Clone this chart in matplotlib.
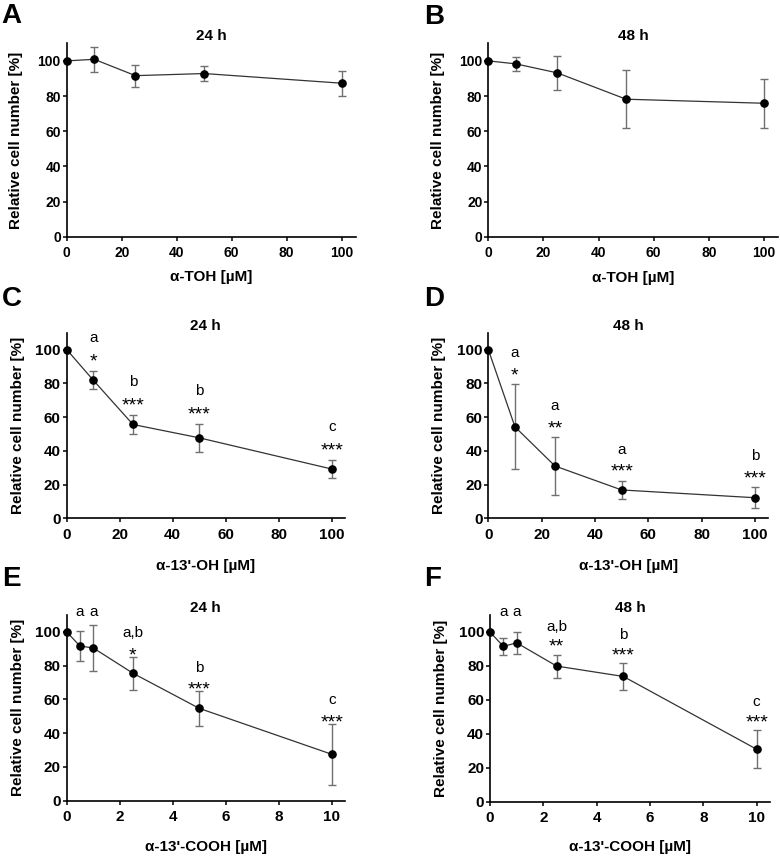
import matplotlib
matplotlib.use("Agg")
import matplotlib.pyplot as plt
import numpy as np
from matplotlib.transforms import blended_transform_factory

plt.rcParams['font.family'] = ['Liberation Sans', 'DejaVu Sans']

# ---------------- data ----------------
conc_toh = [0, 10, 25, 50, 100]
conc_oh = [0, 10, 25, 50, 100]
conc_cooh = [0, 0.5, 1, 2.5, 5, 10]

toh_24_mean = [100, 100.9, 91.6, 92.8, 87.3]
toh_24_sd = [0, 7.2, 6.3, 4.1, 7.1]
toh_48_mean = [100, 98.3, 93.2, 78.2, 75.9]
toh_48_sd = [0, 4.0, 9.6, 16.6, 14.0]

oh_24_mean = [100, 81.9, 55.6, 47.7, 29.2]
oh_24_sd = [0, 5.5, 5.7, 8.3, 5.5]
oh_48_mean = [100, 54.2, 31.0, 16.8, 12.2]
oh_48_sd = [0, 25.2, 16.9, 5.6, 6.2]

cooh_24_mean = [100, 91.6, 90.5, 75.5, 54.7, 27.5]
cooh_24_sd = [0, 9.1, 13.4, 9.7, 10.2, 18.0]
cooh_48_mean = [100, 91.5, 93.6, 79.9, 73.8, 30.9]
cooh_48_sd = [0, 5.0, 6.5, 6.8, 8.0, 11.1]

oh_24_letters = ['', 'a', 'b', 'b', 'c']
oh_24_stars = ['', '*', '***', '***', '***']
oh_48_letters = ['', 'a', 'a', 'a', 'b']
oh_48_stars = ['', '*', '**', '***', '***']
cooh_24_letters = ['', 'a', 'a', 'a,b', 'b', 'c']
cooh_24_stars = ['', '', '', '*', '***', '***']
cooh_48_letters = ['', 'a', 'a', 'a,b', 'b', 'c']
cooh_48_stars = ['', '', '', '**', '***', '***']

toh_ticks = [0, 20, 40, 60, 80, 100]
cooh_ticks = [0, 2, 4, 6, 8, 10]
y_ticks = [0, 20, 40, 60, 80, 100]

W, H = 780, 858
fig = plt.figure(figsize=(W / 100, H / 100), dpi=100)

PX = 0.72  # points per pixel
STAR_FS = 14
STAR_CENTRE_PX = 0.58 * STAR_FS / PX  # asterisk glyph centre above baseline (px)


def make_axes(left, right, top, bottom):
    return fig.add_axes([left / W, 1 - bottom / H, (right - left) / W, (bottom - top) / H])


panels = [
    dict(tag='A', rect=(66.7, 355.5, 43.3, 236.7), x=conc_toh, m=toh_24_mean, s=toh_24_sd,
         let=None, st=None, title='24 h', xl='α-TOH [µM]', xt=toh_ticks, xmax=105,
         fs=10, xly=-0.172, tagpos=(1, 3), soff=15, loff=16.5),
    dict(tag='B', rect=(488.3, 777.7, 43.3, 236.7), x=conc_toh, m=toh_48_mean, s=toh_48_sd,
         let=None, st=None, title='48 h', xl='α-TOH [µM]', xt=toh_ticks, xmax=105,
         fs=10, xly=-0.178, tagpos=(424, 4), soff=15, loff=16.5),
    dict(tag='C', rect=(66.7, 345, 332.7, 518.3), x=conc_oh, m=oh_24_mean, s=oh_24_sd,
         let=oh_24_letters, st=oh_24_stars, title='24 h', xl="α-13'-OH [µM]", xt=toh_ticks, xmax=105,
         fs=11, xly=-0.218, tagpos=(2, 286), soff=16, loff=17),
    dict(tag='D', rect=(488.3, 768.3, 332.7, 518.3), x=conc_oh, m=oh_48_mean, s=oh_48_sd,
         let=oh_48_letters, st=oh_48_stars, title='48 h', xl="α-13'-OH [µM]", xt=toh_ticks, xmax=105,
         fs=11, xly=-0.218, tagpos=(424, 286), soff=15, loff=16.5),
    dict(tag='E', rect=(66.7, 345, 615, 800.7), x=conc_cooh, m=cooh_24_mean, s=cooh_24_sd,
         let=cooh_24_letters, st=cooh_24_stars, title='24 h', xl="α-13'-COOH [µM]", xt=cooh_ticks, xmax=10.5,
         fs=11, xly=-0.212, tagpos=(2, 566), soff=8, loff=16),
    dict(tag='F', rect=(490, 770, 615, 801.7), x=conc_cooh, m=cooh_48_mean, s=cooh_48_sd,
         let=cooh_48_letters, st=cooh_48_stars, title='48 h', xl="α-13'-COOH [µM]", xt=cooh_ticks, xmax=10.5,
         fs=11, xly=-0.207, tagpos=(424, 566), soff=14, loff=14.5),
]

for p in panels:
    ax = make_axes(*p['rect'])
    x = np.array(p['x'], dtype=float)
    m = np.array(p['m'], dtype=float)
    s = np.array(p['s'], dtype=float)

    ax.plot(x, m, color='#333333', lw=0.9, zorder=2, clip_on=False)
    mask = s > 0
    ax.errorbar(x[mask], m[mask], yerr=s[mask], fmt='none', ecolor='#707070',
                elinewidth=1.0, capsize=3.2, capthick=1.0, zorder=3, clip_on=False)
    ax.plot(x, m, 'o', color='black', ms=5.2, zorder=4, clip_on=False)

    ax.set_xlim(0, p['xmax'])
    ax.set_ylim(0, 110)
    ax.set_xticks(p['xt'])
    ax.set_yticks(y_ticks)
    for sp in ['top', 'right']:
        ax.spines[sp].set_visible(False)
    for sp in ['left', 'bottom']:
        ax.spines[sp].set_linewidth(1.2)
        ax.spines[sp].set_color('black')
    ax.tick_params(axis='both', direction='out', length=3.2, width=1.1, color='black')
    ax.tick_params(axis='y', pad=1)
    ax.tick_params(axis='x', pad=3.5)
    for lab in ax.get_xticklabels() + ax.get_yticklabels():
        lab.set_fontweight('bold')
        lab.set_fontsize(p['fs'])

    ax.set_title(p['title'], fontsize=11, fontweight='bold', pad=0)
    ax.set_ylabel('Relative cell number [%]', fontsize=11, fontweight='bold')
    ax.yaxis.set_label_coords(-0.15, 0.5)
    ax.set_xlabel(p['xl'], fontsize=11, fontweight='bold')
    ax.xaxis.set_label_coords(0.5, p['xly'])

    if p['let'] is not None:
        top_tr = blended_transform_factory(ax.transData, ax.transAxes)
        for xi, mi, si, lt, stx in zip(x, m, s, p['let'], p['st']):
            if not lt:
                continue
            if stx:
                star_base = p['soff'] - STAR_CENTRE_PX
                ax.annotate(stx, xy=(xi, mi + si), xytext=(0, star_base * PX),
                            textcoords='offset points', ha='center', va='baseline',
                            fontsize=STAR_FS, annotation_clip=False)
                let_base = p['soff'] + p['loff'] - 4.5
                ax.annotate(lt, xy=(xi, mi + si), xytext=(0, let_base * PX),
                            textcoords='offset points', ha='center', va='baseline',
                            fontsize=11, annotation_clip=False)
            else:
                ax.annotate(lt, xy=(xi, 1.0), xycoords=top_tr, xytext=(0, -1.5 * PX),
                            textcoords='offset points', ha='center', va='baseline',
                            fontsize=11, annotation_clip=False)

    tx, ty = p['tagpos']
    fig.text(tx / W, 1 - ty / H, p['tag'], fontsize=20, fontweight='bold',
             ha='left', va='top')

fig.savefig('out.png', dpi=100)
